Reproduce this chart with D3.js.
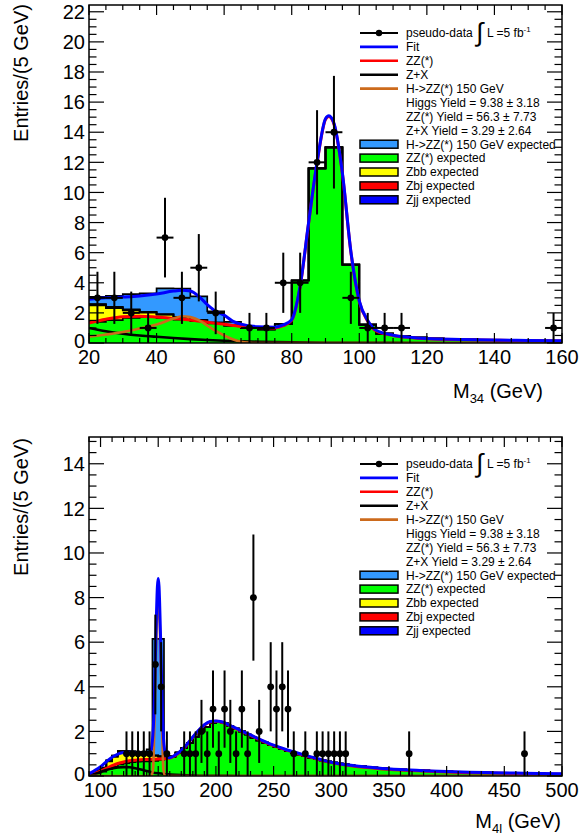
<!DOCTYPE html>
<html><head><meta charset="utf-8">
<script src="https://cdn.jsdelivr.net/npm/d3@7"></script>
<style>
body{margin:0;background:#fff}
svg{display:block}
text{font-family:"Liberation Sans",Arial,Helvetica,sans-serif;fill:#000}
</style>
</head><body>
<svg id="c" width="580" height="836"></svg>
<script>
// ---------------- Top panel: M34 ----------------
const binLow34 = d3.range(20, 160, 5);           // 5 GeV bins, 20..160
const zz34  = [1.4,1.52,1.67,1.72,1.66,1.55,1.45,1.3,1.15,0.98,0.9,1.25,4.15,11.6,13.0,5.2,1.22,0.62,0.46,0.36,0.29,0.25,0.22,0.2,0.18,0.16,0.15,0.14];
const zbb34 = [1.1,0.8,0.5,0.3,0.22,0.15,0.08,0.04,0.02,0.01];
const zbj34 = [0.06,0.05,0.04,0.03,0.02,0.02,0.01,0.01];
const zjj34 = [0.03,0.03,0.02,0.02,0.01,0.01];
const h34   = [0.47,0.74,1.02,1.23,1.72,1.89,1.56,0.75,0.23,0.06,0.04,0.02,0.01];

const data34X = [22.5,27.5,32.5,37.5,42.5,47.5,52.5,57.5,67.5,72.5,77.5,82.5,87.5,92.5,97.5,102.5,107.5,112.5,157.5];
const data34N = [3,3,2,1,7,3,5,2,1,1,4,4,12,14,3,1,1,1,1];

const fit34X = [20,25,30,35,40,45,47.5,50,52.5,55,57.5,60,62.5,65,70,75,77.5,80,82.5,85,87.5,90,91,92.5,95,97.5,100,102.5,105,110,115,120,130,140,150,160];
const fit34Y = [2.9,3.0,3.05,3.12,3.25,3.45,3.5,3.45,3.1,2.55,2.1,1.85,1.45,1.25,1.08,1.05,1.2,1.55,3.8,8.0,12.0,14.9,15.1,14.6,11.3,6.1,2.8,1.5,0.85,0.52,0.38,0.3,0.24,0.2,0.17,0.15];
const zzFit34X = [20,25,30,35,40,45,50,55,60,65,70,75,77.5,80,82.5,85,87.5,90,91,92.5,95,97.5,100,102.5,105,110,115,120,130,140,150,160];
const zzFit34Y = [1.33,1.58,1.75,1.78,1.72,1.63,1.53,1.38,1.24,1.1,1.03,1.0,1.15,1.5,3.75,7.95,11.95,14.85,15.05,14.55,11.25,6.05,2.75,1.45,0.8,0.5,0.36,0.28,0.22,0.18,0.16,0.14];
const zxFit34X = [20,25,30,35,40,45,50,55,60,70,80,90,100,120,140,160];
const zxFit34Y = [1.0,0.78,0.62,0.5,0.41,0.33,0.26,0.2,0.15,0.08,0.04,0.02,0.01,0.005,0,0];
const hFit34X = [20,25,30,35,40,45,47.5,50,52.5,55,57.5,60,62.5,65,67.5,70,160];
const hFit34Y = [0.42,0.56,0.73,0.97,1.23,1.62,1.78,1.72,1.52,1.16,0.8,0.5,0.25,0.08,0.02,0,0];
const xLabels34 = [20,40,60,80,100,120,140,160];
const yLabels34 = [0,2,4,6,8,10,12,14,16,18,20,22];

// ---------------- Bottom panel: M4l ----------------
const binLow4l = d3.range(90, 500, 5);           // 5 GeV bins, 90..500
const zz4l  = [0.05,0.12,0.2,0.32,0.42,0.52,0.58,0.62,0.64,0.65,0.66,0.68,0.72,0.8,0.86,
  1.05,1.25,1.48,1.75,2.0,2.2,2.37,2.42,2.38,2.25,2.12,2.0,1.86,1.72,1.6,1.5,1.4,1.3,1.21,1.12,
  1.04,0.97,0.9,0.82,0.76,0.7,0.65,0.6,0.56,0.52,0.49,0.46,0.43,0.4,0.38,0.36,0.34,0.32,0.3,0.29,
  0.27,0.26,0.25,0.24,0.23,0.22,0.21,0.2,0.19,0.18,0.175,0.17,0.16,0.155,0.15,0.145,0.14,0.135,
  0.13,0.125,0.12,0.115,0.11,0.105,0.1,0.1,0.095];
const zbb4l = [0.05,0.1,0.15,0.33,0.44,0.54,0.48,0.43,0.4,0.38,0.3,0.22,0.14,0.04,0.02];
const zbj4l = [0.01,0.02,0.02,0.03,0.04,0.04,0.04,0.03,0.03,0.03,0.02,0.02,0.02,0.01];
const zjj4l = [0.01,0.01,0.01,0.02,0.02,0.02,0.02,0.02,0.01,0.01,0.01,0.01,0.01];
const h4l   = [0,0,0,0,0,0,0,0,0,0,0.21,5.22,5.26];

const data4lX = [122.5,127.5,132.5,137.5,142.5,147.5,152.5,157.5,172.5,177.5,182.5,187.5,192.5,197.5,202.5,207.5,212.5,217.5,222.5,227.5,232.5,237.5,247.5,252.5,257.5,262.5,267.5,277.5,287.5,292.5,297.5,302.5,307.5,312.5,367.5,467.5];
const data4lN = [1,1,1,1,1,5,4,1,1,1,1,2,1,3,1,3,2,1,3,1,8,2,4,3,4,3,1,1,1,1,1,1,1,1,1,1];

const fit4lX = [90,95,100,105,110,115,120,125,130,135,140,143,145,146.5,148,149.3,150,150.7,152,153.5,155,157,160,165,170,175,180,185,190,195,200,205,210,215,220,230,240,250,260,270,280,290,300,320,340,360,380,400,420,440,460,480,500];
const fit4lY = [0.1,0.25,0.42,0.64,0.84,0.98,1.05,1.06,1.05,1.03,1.0,1.05,1.6,3.1,6.3,8.5,8.85,8.5,6.3,3.1,1.4,0.9,0.82,0.95,1.15,1.42,1.75,2.05,2.3,2.44,2.47,2.43,2.33,2.2,2.08,1.84,1.6,1.38,1.2,1.04,0.89,0.75,0.62,0.46,0.36,0.29,0.24,0.2,0.17,0.15,0.13,0.11,0.1];
const zzFit4lX = [90,95,100,105,110,115,120,125,130,135,140,145,150,155,160,165,170,175,180,185,190,195,200,205,210,215,220,230,240,250,260,270,280,290,300,320,340,360,380,400,420,440,460,480,500];
const zzFit4lY = [0.05,0.12,0.22,0.34,0.46,0.56,0.63,0.68,0.71,0.73,0.74,0.75,0.76,0.77,0.8,0.93,1.13,1.4,1.73,2.03,2.28,2.42,2.45,2.41,2.31,2.18,2.06,1.82,1.58,1.36,1.18,1.02,0.87,0.73,0.6,0.44,0.34,0.27,0.22,0.18,0.15,0.13,0.11,0.09,0.08];
const zxFit4lX = [90,95,100,105,110,115,120,125,130,135,140,145,150,155,160,170,180,190,200,220,250,500];
const zxFit4lY = [0.03,0.09,0.18,0.27,0.34,0.38,0.4,0.39,0.35,0.29,0.22,0.16,0.12,0.09,0.07,0.04,0.02,0.01,0.01,0,0,0];
const hFit4lX = [90,144,145.5,147,148.5,150,151.5,153,154.5,156,500];
const hFit4lY = [0,0,0.3,3.0,6.5,8.1,6.5,3.0,0.3,0,0];
const xLabels4l = [100,150,200,250,300,350,400,450,500];
const yLabels4l = [0,2,4,6,8,10,12,14];

// legend text
const legendLines = [
  {t:'pseudo-data', kind:'data'},
  {t:'Fit', kind:'line', c:'#0000ff'},
  {t:'ZZ(*)', kind:'line', c:'#ff0000'},
  {t:'Z+X', kind:'line', c:'#000000'},
  {t:'H->ZZ(*) 150 GeV', kind:'line', c:'#cc6a1c'},
  {t:'Higgs  Yield = 9.38  \u00b1 3.18', kind:'none'},
  {t:'ZZ(*) Yield = 56.3  \u00b1 7.73', kind:'none'},
  {t:'Z+X Yield = 3.29  \u00b1 2.64', kind:'none'},
  {t:'H->ZZ(*) 150 GeV expected', kind:'box', c:'#3399ff'},
  {t:'ZZ(*) expected', kind:'box', c:'#00ff00'},
  {t:'Zbb expected', kind:'box', c:'#ffff00'},
  {t:'Zbj expected', kind:'box', c:'#ff0000'},
  {t:'Zjj expected', kind:'box', c:'#0000ff'}
];

const svg = d3.select('#c');
const L = 89, R = 562;
const stackKeys = ['zz','zbb','zbj','zjj','h'];
const stackColors = {zz:'#00ff00', zbb:'#ffff00', zbj:'#ff0000', zjj:'#0000ff', h:'#3399ff'};

function drawPanel(cfg, id) {
  const g = svg.append('g');
  const x = d3.scaleLinear().domain(cfg.xDomain).range([L, R]);
  const y = d3.scaleLinear().domain([0, cfg.yMax]).range([cfg.bottom, cfg.top]);
  g.append('clipPath').attr('id', 'clip' + id).append('rect')
    .attr('x', L).attr('y', cfg.top).attr('width', R - L).attr('height', cfg.bottom - cfg.top);
  const plot = g.append('g').attr('clip-path', `url(#clip${id})`);

  // stack
  const rows = cfg.binLow.map((b, i) => ({
    x: b, zz: cfg.zz[i] || 0, zbb: cfg.zbb[i] || 0, zbj: cfg.zbj[i] || 0, zjj: cfg.zjj[i] || 0, h: cfg.h[i] || 0
  }));
  const last = rows[rows.length - 1];
  rows.push(Object.assign({}, last, {x: last.x + cfg.binW}));
  const series = d3.stack().keys(stackKeys)(rows);
  const area = d3.area().x((d, i) => x(rows[i].x)).y0(d => y(d[0])).y1(d => y(d[1])).curve(d3.curveStepAfter);
  const topLine = d3.line().x((d, i) => x(rows[i].x)).y(d => y(d[1])).curve(d3.curveStepAfter);
  series.forEach(s => plot.append('path').attr('d', area(s)).attr('fill', stackColors[s.key]).attr('stroke', 'none'));
  series.forEach(s => plot.append('path').attr('d', topLine(s)).attr('fill', 'none').attr('stroke', '#000').attr('stroke-width', 1.7));

  // curves
  const line = d3.line().x(d => x(d[0])).y(d => y(d[1])).curve(d3.curveMonotoneX);
  const curve = (xs, ys, c, w) => plot.append('path').attr('d', line(xs.map((v, i) => [v, ys[i]])))
    .attr('fill', 'none').attr('stroke', c).attr('stroke-width', w).attr('stroke-linejoin', 'round');
  curve(cfg.zzFitX, cfg.zzFitY, '#ff0000', 3);
  curve(cfg.zxFitX, cfg.zxFitY, '#000000', 2.6);
  curve(cfg.hFitX, cfg.hFitY, '#cc6a1c', 2.6);
  curve(cfg.fitX, cfg.fitY, '#0000ff', 3);

  // data points
  const dg = plot.append('g');
  cfg.dataX.forEach((xv, i) => {
    const n = cfg.dataN[i], e = Math.sqrt(n);
    dg.append('line').attr('x1', x(xv)).attr('x2', x(xv)).attr('y1', y(n - e)).attr('y2', y(n + e))
      .attr('stroke', '#000').attr('stroke-width', 2);
    dg.append('line').attr('x1', x(xv - cfg.binW / 2)).attr('x2', x(xv + cfg.binW / 2)).attr('y1', y(n)).attr('y2', y(n))
      .attr('stroke', '#000').attr('stroke-width', 2);
    dg.append('circle').attr('cx', x(xv)).attr('cy', y(n)).attr('r', 3.4).attr('fill', '#000');
  });

  // ticks
  const tg = g.append('g').attr('stroke', '#000').attr('stroke-width', 1.2);
  const xMinor = d3.range(cfg.xDomain[0], cfg.xDomain[1] + 1e-6, cfg.xMinorStep);
  xMinor.forEach(v => {
    const major = cfg.xLabels.some(m => Math.abs(m - v) < 1e-6);
    const len = major ? 10 : 5;
    tg.append('line').attr('x1', x(v)).attr('x2', x(v)).attr('y1', cfg.bottom).attr('y2', cfg.bottom - len);
    tg.append('line').attr('x1', x(v)).attr('x2', x(v)).attr('y1', cfg.top).attr('y2', cfg.top + len);
  });
  const yMinor = d3.range(0, cfg.yMax + 1e-6, 0.5);
  yMinor.forEach(v => {
    const major = cfg.yLabels.some(m => Math.abs(m - v) < 1e-6);
    const len = major ? 15 : 7.5;
    tg.append('line').attr('x1', L).attr('x2', L + len).attr('y1', y(v)).attr('y2', y(v));
    tg.append('line').attr('x1', R).attr('x2', R - len).attr('y1', y(v)).attr('y2', y(v));
  });
  // frame
  g.append('rect').attr('x', L).attr('y', cfg.top).attr('width', R - L).attr('height', cfg.bottom - cfg.top)
    .attr('fill', 'none').attr('stroke', '#000').attr('stroke-width', 1.5);

  // labels
  cfg.xLabels.forEach(v => g.append('text').attr('x', x(v)).attr('y', cfg.bottom + 21)
    .attr('text-anchor', 'middle').attr('font-size', 20).text(v));
  cfg.yLabels.forEach(v => g.append('text').attr('x', L - 4).attr('y', y(v) - (v === 0 ? 2 : 0)).attr('dy', '0.36em')
    .attr('text-anchor', 'end').attr('font-size', 20).text(v));

  // axis titles
  g.append('text').attr('transform', `translate(28,${cfg.yTitleC}) rotate(-90)`).attr('text-anchor', 'middle')
    .attr('font-size', 20).text('Entries/(5 GeV)');
  const xt = g.append('text').attr('x', cfg.xTitleEnd).attr('y', cfg.xTitleY).attr('text-anchor', 'end').attr('font-size', 20);
  xt.append('tspan').text('M');
  xt.append('tspan').attr('font-size', 13).attr('dy', 5).text(cfg.sub);
  xt.append('tspan').attr('dy', -5).text(cfg.titleRest);

  // legend
  const lg = g.append('g');
  const y0 = cfg.legendY;
  legendLines.forEach((it, i) => {
    const yy = y0 + i * 13.9;
    if (it.kind === 'data') {
      lg.append('line').attr('x1', 360).attr('x2', 398).attr('y1', yy).attr('y2', yy).attr('stroke', '#000').attr('stroke-width', 2);
      lg.append('circle').attr('cx', 379).attr('cy', yy).attr('r', 3.2).attr('fill', '#000');
    } else if (it.kind === 'line') {
      lg.append('line').attr('x1', 360).attr('x2', 398).attr('y1', yy).attr('y2', yy).attr('stroke', it.c).attr('stroke-width', 2.6);
    } else if (it.kind === 'box') {
      lg.append('rect').attr('x', 360).attr('y', yy - 4).attr('width', 38).attr('height', 8)
        .attr('fill', it.c).attr('stroke', '#000').attr('stroke-width', 1.5);
    }
    const t = lg.append('text').attr('x', 406).attr('y', yy).attr('dy', '0.36em').attr('font-size', 12);
    t.append('tspan').text(it.t);
    if (it.kind === 'data') {
      lg.append('text').attr('x', 476).attr('y', yy + 8).attr('font-size', 26).text('\u222b');
      const t2 = lg.append('text').attr('x', 487).attr('y', yy).attr('dy', '0.36em').attr('font-size', 12);
      t2.append('tspan').text('L =5 fb');
      t2.append('tspan').attr('font-size', 8).attr('dy', -5).text('-1');
    }
  });
}

drawPanel({
  top: 5, bottom: 343, yMax: 22.45, xDomain: [20, 160], binW: 5, binLow: binLow34,
  zz: zz34, zbb: zbb34, zbj: zbj34, zjj: zjj34, h: h34,
  dataX: data34X, dataN: data34N,
  fitX: fit34X, fitY: fit34Y, zzFitX: zzFit34X, zzFitY: zzFit34Y, zxFitX: zxFit34X, zxFitY: zxFit34Y, hFitX: hFit34X, hFitY: hFit34Y,
  xLabels: xLabels34, yLabels: yLabels34, xMinorStep: 5,
  yTitleC: 73, xTitleEnd: 543, xTitleY: 398, sub: '34', titleRest: '  (GeV)', legendY: 33
}, 'a');

drawPanel({
  top: 437, bottom: 776, yMax: 15.2, xDomain: [90, 500], binW: 5, binLow: binLow4l,
  zz: zz4l, zbb: zbb4l, zbj: zbj4l, zjj: zjj4l, h: h4l,
  dataX: data4lX, dataN: data4lN,
  fitX: fit4lX, fitY: fit4lY, zzFitX: zzFit4lX, zzFitY: zzFit4lY, zxFitX: zxFit4lX, zxFitY: zxFit4lY, hFitX: hFit4lX, hFitY: hFit4lY,
  xLabels: xLabels4l, yLabels: yLabels4l, xMinorStep: 10,
  yTitleC: 507, xTitleEnd: 561, xTitleY: 828, sub: '4l', titleRest: ' (GeV)', legendY: 464
}, 'b');
</script>
</body></html>
